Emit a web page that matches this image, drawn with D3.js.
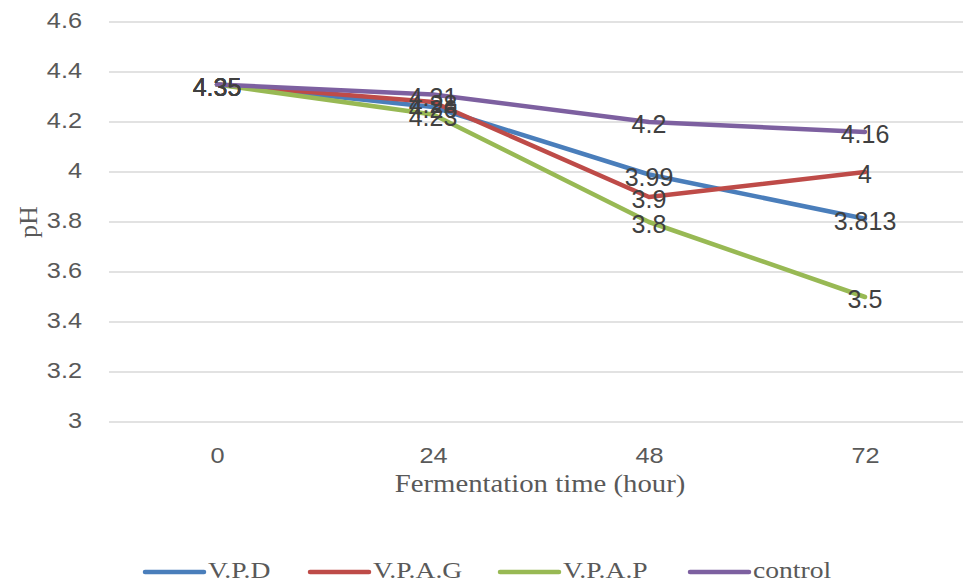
<!DOCTYPE html>
<html>
<head>
<meta charset="utf-8">
<script src="https://cdnjs.cloudflare.com/ajax/libs/d3/7.8.5/d3.min.js"></script>
<style>
  html, body { margin: 0; padding: 0; background: #fff; overflow: hidden; }
</style>
</head>
<body>
<div id="chart"></div>
<script>
// pH over fermentation time, line chart with centred data labels.

const hours = ['0', '24', '48', '72'];
const yTicks = [3, 3.2, 3.4, 3.6, 3.8, 4, 4.2, 4.4, 4.6];

const seriesNames = ['V.P.D', 'V.P.A.G', 'V.P.A.P', 'control'];
const seriesColors = ['#4a7ebb', '#be4b48', '#98b954', '#7d60a0'];
const vpd = [4.35, 4.26, 3.99, 3.813];
const vpag = [4.35, 4.28, 3.9, 4];
const vpap = [4.35, 4.23, 3.8, 3.5];
const control = [4.35, 4.31, 4.2, 4.16];
const seriesValues = [vpd, vpag, vpap, control];

const W = 963, H = 583;
const plot = { left: 109, right: 973, top: 22, bottom: 422 };
const stretch = 1.15; // the source image is a bit wider than tall

const svg = d3.select('#chart').append('svg')
  .attr('width', W)
  .attr('height', H)
  .attr('viewBox', `0 0 ${W} ${H}`);

const x = d3.scalePoint().domain(hours).range([plot.left, plot.right]).padding(0.5);
const y = d3.scaleLinear().domain([3, 4.6]).range([plot.bottom, plot.top]);

const serif = '"Liberation Serif", "DejaVu Serif", serif';
const sans = '"Liberation Sans", Arial, sans-serif';

// Gridlines
svg.append('g')
  .selectAll('line')
  .data(yTicks)
  .enter()
  .append('line')
  .attr('x1', plot.left)
  .attr('x2', plot.right)
  .attr('y1', d => y(d))
  .attr('y2', d => y(d))
  .style('stroke', '#d9d9d9')
  .style('stroke-width', 1.3);

// Y axis labels
const yAxis = d3.axisLeft(y).tickValues(yTicks).tickSize(0).tickPadding(0).tickFormat(d3.format('~g'));
const yg = svg.append('g').attr('transform', 'translate(82,-2)').call(yAxis);
yg.select('.domain').remove();
yg.selectAll('text')
  .attr('transform', `scale(${stretch},1)`)
  .style('font-family', sans)
  .style('font-size', '22px')
  .style('fill', '#595959');

// X axis labels
const xAxis = d3.axisBottom(x).tickSize(0).tickPadding(0);
const xg = svg.append('g').attr('transform', 'translate(0,447)').call(xAxis);
xg.select('.domain').remove();
xg.selectAll('text')
  .attr('transform', `scale(${stretch},1)`)
  .style('font-family', sans)
  .style('font-size', '22px')
  .style('fill', '#595959');

// Axis titles
svg.append('text')
  .attr('transform', `translate(540,492) scale(${stretch},1)`)
  .attr('text-anchor', 'middle')
  .style('font-family', serif)
  .style('font-size', '25px')
  .style('fill', '#595959')
  .text('Fermentation time (hour)');

svg.append('text')
  .attr('transform', 'translate(37,222) rotate(-90)')
  .attr('text-anchor', 'middle')
  .style('font-family', serif)
  .style('font-size', '26px')
  .style('fill', '#595959')
  .text('pH');

// Lines
const line = d3.line()
  .x((d, i) => x(hours[i]))
  .y(d => y(d));

svg.append('g')
  .selectAll('path')
  .data(seriesValues)
  .enter()
  .append('path')
  .attr('d', d => line(d))
  .style('fill', 'none')
  .style('stroke', (d, i) => seriesColors[i])
  .style('stroke-width', 4.5)
  .style('stroke-linecap', 'round')
  .style('stroke-linejoin', 'round');

// Data labels, centred on points
seriesValues.forEach(vals => {
  svg.append('g')
    .selectAll('text')
    .data(vals)
    .enter()
    .append('text')
    .attr('x', (d, i) => x(hours[i]))
    .attr('y', d => y(d))
    .attr('dy', '0.45em')
    .attr('text-anchor', 'middle')
    .style('font-family', sans)
    .style('font-size', '25px')
    .style('fill', '#404040')
    .text(d => d3.format('~g')(d));
});

// Legend
const legendX = [145, 310, 500, 690];
const legend = svg.append('g').attr('transform', 'translate(0,572)');
seriesNames.forEach((name, i) => {
  const g = legend.append('g').attr('transform', `translate(${legendX[i]},0)`);
  g.append('line')
    .attr('x1', 0)
    .attr('x2', 59)
    .style('stroke', seriesColors[i])
    .style('stroke-width', 4.5)
    .style('stroke-linecap', 'round');
  g.append('text')
    .attr('transform', `translate(63,6) scale(${stretch},1)`)
    .style('font-family', serif)
    .style('font-size', '24px')
    .style('fill', '#595959')
    .text(name);
});
</script>
</body>
</html>
